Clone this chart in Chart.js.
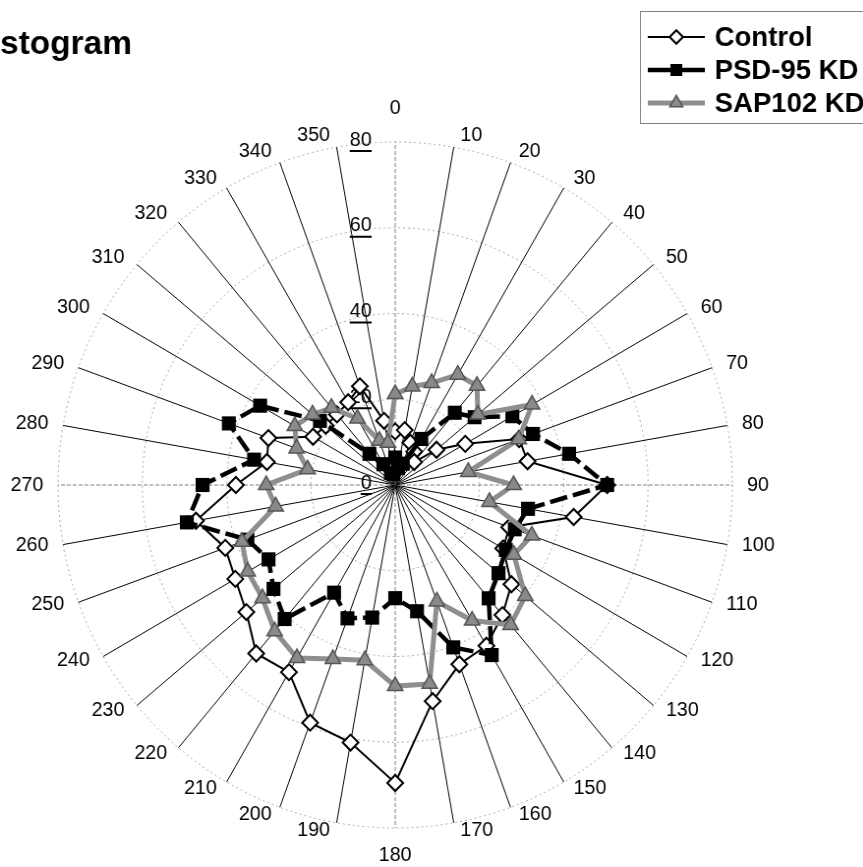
<!DOCTYPE html>
<html>
<head>
<meta charset="utf-8">
<script src="https://cdn.jsdelivr.net/npm/chart.js@4.4.1/dist/chart.umd.min.js"></script>
<style>
  html, body { margin: 0; padding: 0; background: #fff; overflow: hidden; }
  #wrap { position: absolute; left: 0; top: 0; width: 878px; height: 867px;
          transform: scaleX(0.983); transform-origin: 0 0; }
</style>
</head>
<body>
<div id="wrap"><canvas id="c"></canvas></div>
<script>
// Directions (degrees) around the polar plot
const directions = ['0','10','20','30','40','50','60','70','80','90','100','110','120','130','140','150','160','170',
                    '180','190','200','210','220','230','240','250','260','270','280','290','300','310','320','330','340','350'];

// Histogram counts per direction
const control = [12.5, 13, 10.5, 9, 7, 12.8, 19.2, 31.3, 31.9, 50.3, 43, 28.8, 29.6, 36, 39.6, 43.3, 44.5, 51.2,
                 69.5, 61, 59, 50.4, 51.3, 46.1, 43.8, 42.9, 48, 37.8, 30.9, 32, 22.5, 21.5, 21.5, 22.3, 24.5, 15.2];
const psd95KD = [6.4, 4, 5.3, 12.4, 22, 24.6, 32.1, 34.8, 41.9, 50.3, 32, 30.2, 30.3, 32, 34.5, 45.8, 40.3, 29.9,
                 26.4, 31.4, 33.1, 29, 40.8, 37.7, 34.7, 37.3, 50.2, 45.7, 34, 42, 37, 23.3, 9.5, 5.6, 3, 2.6];
const sap102KD = [21.2, 23.3, 25.3, 29.7, 30.2, 25.6, 37.5, 31.2, 17.6, 28.1, 22.7, 34.5, 32.5, 40.3, 42.6, 36.5, 28.9, 47.1,
                  46.9, 41.5, 43.2, 46.6, 44.5, 41.1, 40.4, 38.7, 28.8, 30.6, 21.1, 24.9, 27.5, 25.6, 23.5, 17.9, 11, 10];

// Radial ring values and their labels
const ringValues = [0, 20, 40, 60, 80];
const ringLabels = ['0', '20', '40', '60', '80'];

const titleText = 'stogram';

const FONT = '"Liberation Sans", Arial, Helvetica, sans-serif';

// Ring labels (underlined, left of the vertical axis), drawn beneath the series
const ringLabelPlugin = {
  id: 'ringLabels',
  beforeDatasetsDraw(chart) {
    const s = chart.scales.r;
    const ctx = chart.ctx;
    ctx.save();
    ctx.font = '20px ' + FONT;
    ctx.fillStyle = '#000';
    ctx.textAlign = 'right';
    ctx.textBaseline = 'middle';
    ringValues.forEach((v, i) => {
      const y = s.yCenter - s.getDistanceFromCenterForValue(v) - 2;
      const x = s.xCenter - 24;
      const t = ringLabels[i];
      ctx.fillText(t, x, y);
      const w = ctx.measureText(t).width;
      ctx.fillRect(x - w, y + 10, w, 2);
    });
    ctx.restore();
  }
};

function drawMarker(ctx, style, r, x, y) {
  if (style === 'rectRot') {
    ctx.moveTo(x, y - r); ctx.lineTo(x + r, y); ctx.lineTo(x, y + r); ctx.lineTo(x - r, y); ctx.closePath();
  } else if (style === 'rect') {
    const h = r * Math.SQRT1_2;
    ctx.rect(x - h, y - h, 2 * h, 2 * h);
  } else {
    ctx.moveTo(x, y - r);
    ctx.lineTo(x + r * Math.sin(2 * Math.PI / 3), y - r * Math.cos(2 * Math.PI / 3));
    ctx.lineTo(x + r * Math.sin(4 * Math.PI / 3), y - r * Math.cos(4 * Math.PI / 3));
    ctx.closePath();
  }
}

// Direction labels around the outer ring, title and legend
const decorPlugin = {
  id: 'decor',
  afterDraw(chart) {
    const s = chart.scales.r;
    const ctx = chart.ctx;
    const R = s.drawingArea;
    ctx.save();
    ctx.font = '20px ' + FONT;
    ctx.fillStyle = '#000';
    ctx.textAlign = 'center';
    ctx.textBaseline = 'middle';
    chart.data.labels.forEach((lab, i) => {
      const p = s.getPointPosition(i, R);
      const a = s.getIndexAngle(i);
      const sn = Math.sin(a), cs = Math.cos(a);
      const w = ctx.measureText(lab).width;
      let dx = 0, dy = 0;
      if (Math.abs(sn) > 1e-6) dx = Math.sign(sn) * (5 + 10 * Math.abs(sn) + w / 2);
      if (Math.abs(sn) < 1e-6) {
        dy = cs > 0 ? -33.5 : 27.5;
      } else {
        dy = -cs * (cs > 0 ? 11.5 : 7.5);
      }
      ctx.fillText(lab, p.x + dx, p.y + dy);
    });

    // title
    ctx.font = 'bold 34px ' + FONT;
    ctx.textAlign = 'left';
    ctx.textBaseline = 'alphabetic';
    ctx.fillText(titleText, 0, 54);

    // legend
    const lx = 651, ly = 11;
    ctx.strokeStyle = '#808080';
    ctx.lineWidth = 1;
    ctx.setLineDash([]);
    ctx.strokeRect(lx + 0.5, ly + 0.5, 300, 112);
    const rowY = [37, 70, 103];
    chart.data.datasets.forEach((ds, k) => {
      const y = rowY[k];
      ctx.strokeStyle = ds.borderColor;
      ctx.lineWidth = ds.borderWidth;
      ctx.beginPath();
      ctx.moveTo(lx + 8, y);
      ctx.lineTo(lx + 66, y);
      ctx.stroke();
      ctx.fillStyle = ds.pointBackgroundColor;
      ctx.strokeStyle = ds.pointBorderColor;
      ctx.lineWidth = ds.pointBorderWidth;
      ctx.beginPath();
      drawMarker(ctx, ds.pointStyle, ds.pointRadius * 0.85, lx + 37, y);
      ctx.fill();
      if (ds.pointBorderWidth) ctx.stroke();
      ctx.fillStyle = '#000';
      ctx.font = 'bold 28px ' + FONT;
      ctx.textAlign = 'left';
      ctx.textBaseline = 'middle';
      ctx.fillText(ds.label, lx + 76, y + 1);
    });
    ctx.restore();
  }
};

new Chart(document.getElementById('c'), {
  type: 'radar',
  data: {
    labels: directions,
    datasets: [
      {
        label: 'Control', data: control, order: 2,
        borderColor: '#000', borderWidth: 2, fill: false,
        pointStyle: 'rectRot', pointRadius: 8,
        pointBackgroundColor: '#fff', pointBorderColor: '#000', pointBorderWidth: 2
      },
      {
        label: 'PSD-95 KD', data: psd95KD, order: 1,
        borderColor: '#000', borderWidth: 4.5, borderDash: [18, 6], fill: false,
        pointStyle: 'rect', pointRadius: 10,
        pointBackgroundColor: '#000', pointBorderColor: '#000', pointBorderWidth: 0
      },
      {
        label: 'SAP102 KD', data: sap102KD, order: 0,
        borderColor: '#8e8e8e', borderWidth: 5, fill: false,
        pointStyle: 'triangle', pointRadius: 9,
        pointBackgroundColor: '#8a8a8a', pointBorderColor: '#555', pointBorderWidth: 1.5
      }
    ]
  },
  options: {
    responsive: true,
    maintainAspectRatio: false,
    devicePixelRatio: 1,
    animation: false,
    events: [],
    layout: { padding: { left: 59, top: 142, right: 133, bottom: 39 } },
    elements: { line: { tension: 0 } },
    plugins: { legend: { display: false }, tooltip: { enabled: false }, title: { display: false } },
    scales: {
      r: {
        min: 0, max: 80,
        ticks: { display: false, stepSize: 20 },
        pointLabels: { display: false },
        grid: { circular: true, color: '#a8a8a8', lineWidth: 1 },
        border: { dash: [2, 3] },
        angleLines: {
          color: (c) => (c.index % 9 === 0 ? '#808080' : '#000'),
          lineWidth: 1,
          borderDash: (c) => (c.index % 9 === 0 ? [4, 2] : [])
        }
      }
    }
  },
  plugins: [ringLabelPlugin, decorPlugin]
});
</script>
</body>
</html>
